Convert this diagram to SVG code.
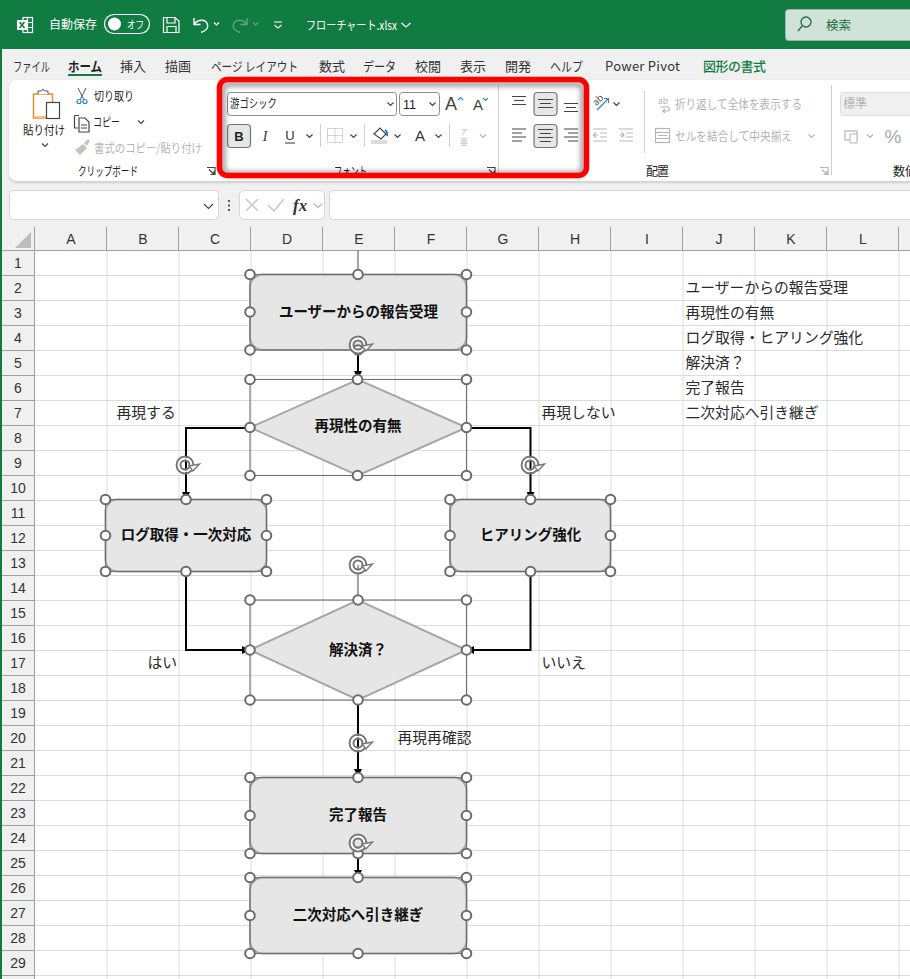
<svg xmlns="http://www.w3.org/2000/svg" width="910" height="979" viewBox="0 0 910 979">
<style>
text{font-family:"Noto Sans CJK JP","Liberation Sans",sans-serif;fill:#222}
.t{font-size:12px}
.tab{font-size:13px;fill:#333}
.hd{font-size:14px;fill:#333;text-anchor:middle;font-family:"Liberation Sans","Noto Sans CJK JP",sans-serif}
.w{fill:#fff}
.d{fill:#b5b5b5}
.cell{font-size:14.8px;fill:#2a2a2a}
.lb{font-size:14.5px;font-weight:700;fill:#111;text-anchor:middle}
.shape{fill:#e6e6e6;stroke:#a6a6a6;stroke-width:2}
.frame{fill:none;stroke:#707070;stroke-width:1.1}
.h{fill:#fff;stroke:#6b6b6b;stroke-width:2}
.conn{fill:none;stroke:#000;stroke-width:2}
.ic{fill:none;stroke:#444;stroke-width:1.2}
.icg{fill:none;stroke:#b5b5b5;stroke-width:1.2}
.chev{fill:none;stroke:#444;stroke-width:1.2}
.box{fill:#fff;stroke:#8c8c8c;stroke-width:1}
.sel{fill:#e6e6e6;stroke:#777;stroke-width:1.2}
.sep{stroke:#d0d0d0;stroke-width:1}
</style>
<defs>
<circle id="hd" r="4.8" class="h"/>
<path id="cv" d="M-3-1.5 0 1.5 3-1.5" class="chev"/>
<path id="cvg" d="M-3-1.5 0 1.5 3-1.5" class="icg"/>
<g id="rot">
<circle r="8.4" fill="none" stroke="#777" stroke-width="2"/>
<circle r="6.4" fill="none" stroke="#fff" stroke-width="1.8"/>
<circle r="4.5" fill="none" stroke="#777" stroke-width="2"/>
<path d="M4 1 14.500-1 8 6Z" fill="#fff" stroke="#777" stroke-width="1.4"/>
</g>
<marker id="ar" markerUnits="userSpaceOnUse" markerWidth="9" markerHeight="8" refX="8" refY="4" orient="auto"><path d="M0 0 8 4 0 8Z" fill="#000"/></marker>
<filter id="bl" x="-5%" y="-10%" width="110%" height="120%"><feGaussianBlur stdDeviation="2.5"/></filter>
<filter id="bl2" x="-5%" y="-10%" width="110%" height="120%"><feGaussianBlur stdDeviation="1.2"/></filter>
</defs>

<rect width="910" height="979" fill="#fff"/>
<g id="ribbon-back">
<rect y="49" width="910" height="201" fill="#f0f0f0"/>
<rect x="9" y="81" width="920" height="102" rx="8" fill="#cfcfcf" filter="url(#bl2)"/>
<rect x="9" y="80" width="920" height="101" rx="8" fill="#fff"/>
</g>
<g id="title-bar">
<rect width="910" height="49" fill="#107c41"/>
<g fill="none" stroke="#fff" stroke-width="1.2"><rect x="23" y="17.500" width="9.500" height="15"/><path d="M23 22.500H32.500M23 27.500H32.500M27.500 17.500V32.500"/></g>
<rect x="17" y="20" width="10" height="10" fill="#fff"/>
<path d="M19.500 22 24.500 28M24.500 22 19.500 28" stroke="#107c41" stroke-width="1.6" fill="none"/>
<text x="49" y="29" class="w" style="font-size:12px">自動保存</text>
<rect x="104.500" y="14.500" width="45" height="19" rx="9.500" fill="none" stroke="#fff" stroke-width="1.2"/>
<circle cx="114.500" cy="24" r="6.500" fill="#fff"/>
<text x="127" y="29" class="w" style="font-size:11px" textLength="17" lengthAdjust="spacingAndGlyphs">オフ</text>
<path d="M163.500 17.500H175L179 21V32.500H163.500ZM167 17.500V23H175V17.500M167 32.500V26.500H176V32.500" fill="none" stroke="#fff" stroke-width="1.2"/>
<path d="M194 18V24.500H200.500M194.500 24C198 19 206 19 207.500 24.500C208.500 28 205.500 31 201 32.500" fill="none" stroke="#fff" stroke-width="1.4"/>
<path d="M214 22.500 216.500 25 219 22.500" fill="none" stroke="#fff" stroke-width="1.2"/>
<path d="M247 18V24.500H240.500M246.500 24C243 19 235 19 233.500 24.500C232.500 28 235.500 31 240 32.500" fill="none" stroke="#5fa67f" stroke-width="1.4"/>
<path d="M253 22.500 255.500 25 258 22.500" fill="none" stroke="#5fa67f" stroke-width="1.2"/>
<path d="M274 22H282M274.500 25 278 28 281.500 25" fill="none" stroke="#fff" stroke-width="1.2"/>
<text x="306" y="30" class="w" style="font-size:12px" textLength="91" lengthAdjust="spacingAndGlyphs">フローチャート.xlsx</text>
<path d="M401.500 23 406 27 410.500 23" fill="none" stroke="#fff" stroke-width="1.3"/>
<rect x="785.500" y="9.500" width="140" height="31" rx="3" fill="#cfe3d8" stroke="#9ab5a6"/>
<circle cx="806" cy="22" r="5" fill="none" stroke="#1f6b45" stroke-width="1.3"/>
<path d="M802 26 798 31" stroke="#1f6b45" stroke-width="1.3"/>
<text x="826" y="30" style="font-size:12.500px;fill:#1f6b45">検索</text>
</g>
<g id="tabs">
<text x="13" y="71" class="tab" textLength="37" lengthAdjust="spacingAndGlyphs">ファイル</text>
<text x="68" y="71" class="tab" style="font-weight:700;fill:#222" textLength="34" lengthAdjust="spacingAndGlyphs">ホーム</text>
<rect x="68" y="74" width="34" height="2" fill="#107c41"/>
<text x="120" y="71" class="tab">挿入</text>
<text x="165" y="71" class="tab">描画</text>
<text x="211" y="71" class="tab" textLength="87" lengthAdjust="spacingAndGlyphs">ページ レイアウト</text>
<text x="319" y="71" class="tab">数式</text>
<text x="363" y="71" class="tab" textLength="33" lengthAdjust="spacingAndGlyphs">データ</text>
<text x="415" y="71" class="tab">校閲</text>
<text x="460" y="71" class="tab">表示</text>
<text x="505" y="71" class="tab">開発</text>
<text x="550" y="71" class="tab" textLength="33" lengthAdjust="spacingAndGlyphs">ヘルプ</text>
<text x="605" y="70.500" class="tab" textLength="75">Power Pivot</text>
<text x="703" y="71" class="tab" style="fill:#107c41;font-weight:500" textLength="63">図形の書式</text>
</g>
<g id="clipboard">
<rect x="33.500" y="94" width="19" height="24" fill="#fff" stroke="#e8902a" stroke-width="1.5"/>
<rect x="35" y="116" width="16" height="2" fill="#f2c27e"/>
<path d="M38 94V91H41.500L43 89 44.500 91H48V94" fill="#fff" stroke="#555"/>
<rect x="46.500" y="102.500" width="13" height="16" fill="#fff" stroke="#444" stroke-width="1.2"/>
<text x="23" y="135" class="t" textLength="42" lengthAdjust="spacingAndGlyphs">貼り付け</text>
<use href="#cv" x="45" y="145"/>
<path d="M78 88 84 100M86 88 80 100" stroke="#555" fill="none"/>
<circle cx="79" cy="101.500" r="2" fill="none" stroke="#2b88d8" stroke-width="1.2"/>
<circle cx="85" cy="101.500" r="2" fill="none" stroke="#2b88d8" stroke-width="1.2"/>
<text x="94" y="101" class="t" textLength="40" lengthAdjust="spacingAndGlyphs">切り取り</text>
<path d="M74.500 115.500H79M74.500 115.500V128H78" class="ic"/>
<path d="M79 118H85L89 122V132H79Z" class="ic"/>
<path d="M81 125H87M81 128H87" class="ic"/>
<text x="93" y="127" class="t" textLength="27" lengthAdjust="spacingAndGlyphs">コピー</text>
<use href="#cv" x="141" y="122"/>
<path d="M75 150 83 144 87 148 80 155ZM84 143 88 139 90 141 86.500 146Z" fill="#c4c4c4"/>
<text x="94" y="153" class="t" style="fill:#b3b3b3" textLength="108" lengthAdjust="spacingAndGlyphs">書式のコピー/貼り付け</text>
<text x="78" y="176" class="t" textLength="60" lengthAdjust="spacingAndGlyphs">クリップボード</text>
<path d="M207 167.500H215V175M209 169.500 214 174.500M214 171V174.500H210.500" class="ic" stroke-width="1"/>
</g>
<g id="font-group">
<rect x="227.500" y="92.500" width="169" height="23" rx="3" class="box"/>
<text x="230" y="108" class="t" textLength="47" lengthAdjust="spacingAndGlyphs">游ゴシック</text>
<use href="#cv" x="390.500" y="104"/>
<rect x="399.500" y="92.500" width="40" height="23" rx="3" class="box"/>
<text x="403" y="108.500" style="font-size:12.500px;font-family:'Liberation Sans',sans-serif">11</text>
<use href="#cv" x="432.500" y="104"/>
<text x="445" y="110" style="font-size:18px;font-family:'Liberation Sans',sans-serif;fill:#444">A</text>
<path d="M458 100 460.500 97.500 463 100" fill="none" stroke="#2b88d8" stroke-width="1.1"/>
<text x="473" y="110" style="font-size:15px;font-family:'Liberation Sans',sans-serif;fill:#444">A</text>
<path d="M483 98 485.500 100.500 488 98" fill="none" stroke="#2b88d8" stroke-width="1.1"/>
<rect x="227.500" y="124.500" width="23" height="23" rx="3.500" class="sel"/>
<text x="239" y="141" text-anchor="middle" style="font-size:13px;font-weight:700;font-family:'Liberation Sans',sans-serif">B</text>
<text x="265" y="141" text-anchor="middle" style="font-size:14px;font-style:italic;font-family:'Liberation Serif',serif;fill:#333">I</text>
<text x="290" y="140" text-anchor="middle" style="font-size:13px;font-family:'Liberation Sans',sans-serif;fill:#333">U</text>
<path d="M285 143H295" stroke="#333"/>
<use href="#cv" x="309.500" y="136"/>
<line x1="320.500" y1="124" x2="320.500" y2="147" class="sep"/>
<rect x="327.500" y="128.500" width="15" height="14" fill="none" stroke="#aaa" stroke-dasharray="1 1"/>
<path d="M335 128.500V142.500M327.500 135.500H342.500" stroke="#aaa" stroke-dasharray="1 1"/>
<use href="#cv" x="353.500" y="136"/>
<line x1="364.500" y1="124" x2="364.500" y2="147" class="sep"/>
<path d="M374 134 380 128 386 134 381 139Z" fill="none" stroke="#444" stroke-width="1.2"/>
<path d="M385 130Q388 132 387 136" fill="none" stroke="#1976d2" stroke-width="1.8"/>
<rect x="371" y="140" width="16" height="4" fill="#dcdcdc"/>
<use href="#cv" x="397.500" y="136"/>
<text x="420" y="141" text-anchor="middle" style="font-size:15px;font-family:'Liberation Sans',sans-serif;fill:#333">A</text>
<use href="#cv" x="438.500" y="136"/>
<line x1="449.500" y1="124" x2="449.500" y2="147" class="sep"/>
<text x="464" y="134" text-anchor="middle" style="font-size:7px;fill:#b5b5b5">ア</text>
<text x="464" y="144.500" text-anchor="middle" style="font-size:8px;fill:#b5b5b5">亜</text>
<use href="#cvg" x="483" y="136"/>
<text x="334" y="176" class="t" textLength="33" lengthAdjust="spacingAndGlyphs">フォント</text>
<path d="M487 167.500H495V175M489 169.500 494 174.500M494 171V174.500H490.500" class="ic" stroke-width="1"/>
<line x1="498.500" y1="85" x2="498.500" y2="175" class="sep"/>
</g>
<g id="align-group">
<path d="M512 96.500H526M514 100.500H524M512 104.500H526" class="ic" stroke="#333"/>
<rect x="534" y="92.500" width="23" height="23" rx="3.500" class="sel"/>
<path d="M538 99.500H553M540 103.500H551M538 107.500H553" class="ic"/>
<path d="M564 103.500H578M566 107.500H576M564 111.500H578" class="ic"/>
<path d="M512 129H526M512 133H522M512 137H526M512 141H522" class="ic"/>
<rect x="534" y="124.500" width="23" height="23" rx="3.500" class="sel"/>
<path d="M538 129.500H553M540 133.500H551M538 137.500H553M540 141.500H551" class="ic"/>
<path d="M564 129H578M568 133H578M564 137H578M568 141H578" class="ic"/>
<text x="592" y="104" style="font-size:9.500px;fill:#555" transform="rotate(-45 597 100)">ab</text>
<path d="M597 110 608 99" stroke="#2b88d8" stroke-width="1.3"/>
<path d="M604 98.500H608.500V103" fill="none" stroke="#2b88d8" stroke-width="1.1"/>
<use href="#cv" x="616.500" y="104"/>
<path d="M593 129H607M600 133H607M600 137H607M593 141H607" class="icg"/>
<path d="M598 135H593.500M596 132.500 593.500 135 596 137.500" class="icg"/>
<path d="M619 129H633M626 133H633M626 137H633M619 141H633" class="icg"/>
<path d="M619.500 135H624M621.500 132.500 624 135 621.500 137.500" class="icg"/>
<line x1="644.500" y1="91" x2="644.500" y2="153" class="sep"/>
<text x="658" y="104" style="font-size:8.500px;fill:#b5b5b5">ab</text>
<path d="M660 107H668Q671 109 668 111H663M665 109 662.500 111 665 113" class="icg"/>
<text x="675" y="109" class="t" style="fill:#b3b3b3" textLength="127" lengthAdjust="spacingAndGlyphs">折り返して全体を表示する</text>
<rect x="655.500" y="128.500" width="14" height="14" class="icg"/>
<path d="M655.500 132.500H669.500M655.500 138.500H669.500M658 135.500H667" class="icg"/>
<text x="675" y="141" class="t" style="fill:#b3b3b3" textLength="117" lengthAdjust="spacingAndGlyphs">セルを結合して中央揃え</text>
<use href="#cvg" x="811.500" y="136"/>
<text x="646" y="176" class="t" textLength="23">配置</text>
<path d="M820 167.500H828V175M822 169.500 827 174.500M827 171V174.500H823.500" class="icg" stroke-width="1"/>
<line x1="831.500" y1="85" x2="831.500" y2="175" class="sep"/>
</g>
<g id="number-group">
<rect x="840.500" y="92.500" width="80" height="23" rx="3" fill="#f0f0f0" stroke="#dcdcdc"/>
<text x="843" y="108" class="t" style="fill:#b3b3b3">標準</text>
<rect x="845" y="131" width="12" height="9" class="icg"/>
<path d="M850 134H857V143H850Z" fill="#fff" stroke="#b5b5b5"/>
<use href="#cvg" x="870" y="136"/>
<text x="893" y="143" text-anchor="middle" style="font-size:19px;font-family:'Liberation Sans',sans-serif;fill:#aaa">%</text>
<text x="893" y="176" class="t">数値</text>
</g>
<g id="red-highlight">
<rect x="223" y="84" width="360" height="90" rx="6" fill="none" stroke="#000" stroke-opacity=".4" stroke-width="5" filter="url(#bl)"/>
<rect x="219.500" y="79.500" width="367" height="96" rx="8" fill="none" stroke="#f00" stroke-width="5.500"/>
</g>
<g id="formula-bar">
<rect x="9.500" y="190.500" width="209" height="29" rx="4" fill="#fff" stroke="#d6d6d6"/>
<path d="M204 204 208.500 208.500 213 204" class="chev"/>
<path d="M229 200V202M229 204.500V206.500M229 209V211" stroke="#333" stroke-width="1.6"/>
<rect x="239.500" y="190.500" width="85" height="29" rx="4" fill="#fff" stroke="#d6d6d6"/>
<path d="M246 199 258 211M258 199 246 211M268 205 274 211 284 199" fill="none" stroke="#c4c4c4" stroke-width="1.3"/>
<text x="293" y="211" style="font-size:17px;font-style:italic;font-family:'Liberation Serif',serif;font-weight:700;fill:#333">fx</text>
<path d="M313.500 203.500 318 207.500 322.500 203.500" class="icg"/>
<rect x="329.500" y="190.500" width="600" height="29" rx="4" fill="#fff" stroke="#d6d6d6"/>
</g>
<g id="sheet-grid">
<path fill="none" stroke="#dcdcdc" stroke-width="1" d="M35 275.500H910M35 300.500H910M35 325.500H910M35 350.500H910M35 375.500H910M35 400.500H910M35 425.500H910M35 450.500H910M35 475.500H910M35 500.500H910M35 525.500H910M35 550.500H910M35 575.500H910M35 600.500H910M35 625.500H910M35 650.500H910M35 675.500H910M35 700.500H910M35 725.500H910M35 750.500H910M35 775.500H910M35 800.500H910M35 825.500H910M35 850.500H910M35 875.500H910M35 900.500H910M35 925.500H910M35 950.500H910M35 975.500H910M107 250V979M179 250V979M251 250V979M323 250V979M395 250V979M467 250V979M539 250V979M611 250V979M683 250V979M755 250V979M827 250V979M899 250V979"/>
<rect x="0" y="226" width="910" height="24" fill="#f0f0f0"/>
<rect x="0" y="250" width="34.500" height="729" fill="#f0f0f0"/>
<path fill="none" stroke="#a0a0a0" d="M0 250.500H910M34.500 227V979M2 275.500H34M2 300.500H34M2 325.500H34M2 350.500H34M2 375.500H34M2 400.500H34M2 425.500H34M2 450.500H34M2 475.500H34M2 500.500H34M2 525.500H34M2 550.500H34M2 575.500H34M2 600.500H34M2 625.500H34M2 650.500H34M2 675.500H34M2 700.500H34M2 725.500H34M2 750.500H34M2 775.500H34M2 800.500H34M2 825.500H34M2 850.500H34M2 875.500H34M2 900.500H34M2 925.500H34M2 950.500H34M2 975.500H34M106.500 227V250M178.500 227V250M250.500 227V250M322.500 227V250M394.500 227V250M466.500 227V250M538.500 227V250M610.500 227V250M682.500 227V250M754.500 227V250M826.500 227V250M898.500 227V250"/>
<path d="M31 232V248H15Z" fill="#bcbcbc"/>
<rect x="0" y="49" width="2" height="930" fill="#107c41"/>
<g class="hdrs">
<text class="hd" x="71" y="244">A</text><text class="hd" x="143" y="244">B</text><text class="hd" x="215" y="244">C</text><text class="hd" x="287" y="244">D</text><text class="hd" x="359" y="244">E</text><text class="hd" x="431" y="244">F</text><text class="hd" x="503" y="244">G</text><text class="hd" x="575" y="244">H</text><text class="hd" x="647" y="244">I</text><text class="hd" x="719" y="244">J</text><text class="hd" x="791" y="244">K</text><text class="hd" x="863" y="244">L</text>
<text class="hd" x="18" y="268">1</text><text class="hd" x="18" y="293">2</text><text class="hd" x="18" y="318">3</text><text class="hd" x="18" y="343">4</text><text class="hd" x="18" y="368">5</text><text class="hd" x="18" y="393">6</text><text class="hd" x="18" y="418">7</text><text class="hd" x="18" y="443">8</text><text class="hd" x="18" y="468">9</text><text class="hd" x="18" y="493">10</text><text class="hd" x="18" y="518">11</text><text class="hd" x="18" y="543">12</text><text class="hd" x="18" y="568">13</text><text class="hd" x="18" y="593">14</text><text class="hd" x="18" y="618">15</text><text class="hd" x="18" y="643">16</text><text class="hd" x="18" y="668">17</text><text class="hd" x="18" y="693">18</text><text class="hd" x="18" y="718">19</text><text class="hd" x="18" y="743">20</text><text class="hd" x="18" y="768">21</text><text class="hd" x="18" y="793">22</text><text class="hd" x="18" y="818">23</text><text class="hd" x="18" y="843">24</text><text class="hd" x="18" y="868">25</text><text class="hd" x="18" y="893">26</text><text class="hd" x="18" y="918">27</text><text class="hd" x="18" y="943">28</text><text class="hd" x="18" y="968">29</text>
</g>
</g>
<g id="cell-text">
<text class="cell" x="685.500" y="292.500">ユーザーからの報告受理</text>
<text class="cell" x="685.500" y="317.500">再現性の有無</text>
<text class="cell" x="685.500" y="342.500">ログ取得・ヒアリング強化</text>
<text class="cell" x="685.500" y="367.500">解決済？</text>
<text class="cell" x="685.500" y="392.500">完了報告</text>
<text class="cell" x="685.500" y="417.500">二次対応へ引き継ぎ</text>
<text class="cell" x="116.500" y="417.500">再現する</text>
<text class="cell" x="541.500" y="417.500">再現しない</text>
<text class="cell" x="147.500" y="667.500">はい</text>
<text class="cell" x="541.500" y="667.500">いいえ</text>
<text class="cell" x="397.500" y="742.500">再現再確認</text>
</g>
<g id="connectors">
<path d="M358 250V274M358 565V600" fill="none" stroke="#6b6b6b" stroke-width="1.2"/>
<path class="conn" marker-end="url(#ar)" d="M358 350V379"/>
<path class="conn" marker-end="url(#ar)" d="M250 428H186V500"/>
<path class="conn" marker-end="url(#ar)" d="M466 428H530.500V500"/>
<path class="conn" marker-end="url(#ar)" d="M186 571V650H250"/>
<path class="conn" marker-end="url(#ar)" d="M530.500 571V650H466"/>
<path class="conn" marker-end="url(#ar)" d="M358 700V777"/>
<path class="conn" marker-end="url(#ar)" d="M358 853V878"/>
</g>
<g id="node-report">
<rect class="shape" x="250" y="274.500" width="216.500" height="75.500" rx="13"/>
<rect class="frame" x="250" y="274.500" width="216.500" height="75.500"/>
<text class="lb" x="358.500" y="317">ユーザーからの報告受理</text>
<use href="#hd" x="250" y="274.500"/><use href="#hd" x="358" y="274.500"/><use href="#hd" x="466.500" y="274.500"/><use href="#hd" x="250" y="312"/><use href="#hd" x="466.500" y="312"/><use href="#hd" x="250" y="350"/><use href="#hd" x="358" y="350"/><use href="#hd" x="466.500" y="350"/>
<use href="#rot" x="358" y="345"/>
</g>
<g id="node-repro">
<rect class="frame" x="250" y="379.500" width="216.500" height="96"/>
<path class="shape" d="M250 427.500 358 379.500 466.500 427.500 358 475.500Z"/>
<text class="lb" x="358" y="431">再現性の有無</text>
<use href="#hd" x="250" y="379.500"/><use href="#hd" x="357.500" y="379.500"/><use href="#hd" x="466.500" y="379.500"/><use href="#hd" x="250" y="427.500"/><use href="#hd" x="466.500" y="427.500"/><use href="#hd" x="250" y="475.500"/><use href="#hd" x="357.500" y="475.500"/><use href="#hd" x="466.500" y="475.500"/>
</g>
<g id="node-log">
<rect class="shape" x="105.500" y="499.500" width="161" height="72" rx="12"/>
<rect class="frame" x="105.500" y="499.500" width="161" height="72"/>
<text class="lb" x="186" y="540">ログ取得・一次対応</text>
<use href="#hd" x="105.500" y="499.500"/><use href="#hd" x="186" y="499.500"/><use href="#hd" x="266.500" y="499.500"/><use href="#hd" x="105.500" y="535.500"/><use href="#hd" x="266.500" y="535.500"/><use href="#hd" x="105.500" y="571.500"/><use href="#hd" x="186" y="571.500"/><use href="#hd" x="266.500" y="571.500"/>
<use href="#rot" x="185" y="465"/>
</g>
<g id="node-hearing">
<rect class="shape" x="450" y="499.500" width="160.500" height="72" rx="12"/>
<rect class="frame" x="450" y="499.500" width="160.500" height="72"/>
<text class="lb" x="530.500" y="540">ヒアリング強化</text>
<use href="#hd" x="450" y="499.500"/><use href="#hd" x="530.500" y="499.500"/><use href="#hd" x="610.500" y="499.500"/><use href="#hd" x="450" y="535.500"/><use href="#hd" x="610.500" y="535.500"/><use href="#hd" x="450" y="571.500"/><use href="#hd" x="530.500" y="571.500"/><use href="#hd" x="610.500" y="571.500"/>
<use href="#rot" x="530" y="465"/>
</g>
<g id="node-resolved">
<rect class="frame" x="250" y="600" width="216.500" height="100"/>
<path class="shape" d="M250 650 358 600 466.500 650 358 700Z"/>
<text class="lb" x="358" y="655">解決済？</text>
<use href="#hd" x="250" y="600"/><use href="#hd" x="358" y="600"/><use href="#hd" x="466.500" y="600"/><use href="#hd" x="250" y="650"/><use href="#hd" x="466.500" y="650"/><use href="#hd" x="250" y="700"/><use href="#hd" x="358" y="700"/><use href="#hd" x="466.500" y="700"/>
<use href="#rot" x="358" y="565"/>
</g>
<g id="node-done">
<rect class="shape" x="250" y="777.500" width="216.500" height="76" rx="13"/>
<rect class="frame" x="250" y="777.500" width="216.500" height="76"/>
<text class="lb" x="358" y="820">完了報告</text>
<use href="#hd" x="250" y="777.500"/><use href="#hd" x="358" y="777.500"/><use href="#hd" x="466.500" y="777.500"/><use href="#hd" x="250" y="815.500"/><use href="#hd" x="466.500" y="815.500"/><use href="#hd" x="250" y="853.500"/><use href="#hd" x="358" y="853.500"/><use href="#hd" x="466.500" y="853.500"/>
<use href="#rot" x="358" y="743"/>
</g>
<g id="node-handover">
<rect class="shape" x="250" y="877.500" width="216.500" height="76" rx="13"/>
<rect class="frame" x="250" y="877.500" width="216.500" height="76"/>
<text class="lb" x="358" y="920">二次対応へ引き継ぎ</text>
<use href="#hd" x="250" y="877.500"/><use href="#hd" x="358" y="877.500"/><use href="#hd" x="466.500" y="877.500"/><use href="#hd" x="250" y="915.500"/><use href="#hd" x="466.500" y="915.500"/><use href="#hd" x="250" y="953.500"/><use href="#hd" x="358" y="953.500"/><use href="#hd" x="466.500" y="953.500"/>
<use href="#rot" x="358" y="843"/>
</g>
</svg>
